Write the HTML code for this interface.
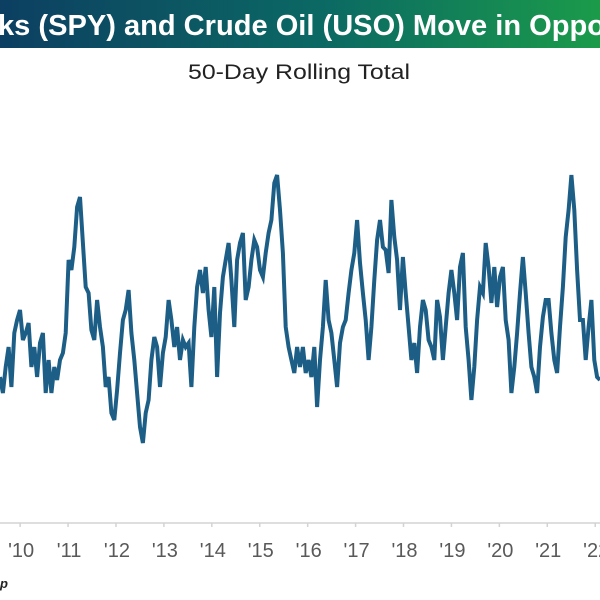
<!DOCTYPE html>
<html><head><meta charset="utf-8"><style>
html,body{margin:0;padding:0;background:#fff;width:600px;height:600px;overflow:hidden}
svg{display:block;font-family:"Liberation Sans",sans-serif}
</style></head><body>
<svg id="chart" width="600" height="600" viewBox="0 0 600 600">
<defs><linearGradient id="tg" x1="0" x2="1" y1="0" y2="0"><stop offset="0" stop-color="#0c3f62"/><stop offset="0.55" stop-color="#0b6a63"/><stop offset="1" stop-color="#1b9b4a"/></linearGradient>
<clipPath id="cp"><rect x="0" y="0" width="600" height="600"/></clipPath></defs>
<rect x="0" y="0" width="600" height="48" fill="url(#tg)"/>
<text x="-2" y="35" font-size="29" font-weight="bold" fill="#fff" textLength="607" lengthAdjust="spacingAndGlyphs">ks (SPY) and Crude Oil (USO) Move in Oppo</text>
<text x="188" y="79" font-size="21" fill="#222" textLength="222" lengthAdjust="spacingAndGlyphs">50-Day Rolling Total</text>
<line x1="0" y1="523" x2="600" y2="523" stroke="#d3d3d3" stroke-width="1.5"/>
<g id="ticks"></g>
<g id="plot" clip-path="url(#cp)"></g>
<text x="0" y="588" font-size="13" font-style="italic" font-weight="bold" fill="#222">p</text>
</svg>
<script>
const tickLabels = ["'10","'11","'12","'13","'14","'15","'16","'17","'18","'19","'20","'21","'22"];
const tickYears = [2010,2011,2012,2013,2014,2015,2016,2017,2018,2019,2020,2021,2022];
const startYear = 2009.58;
const endYear = 2022.1;
const values = [123,107,133,153,113,167,180,190,160,167,177,133,153,123,157,167,107,140,107,133,120,140,147,167,240,230,253,293,303,257,213,207,170,160,200,173,153,113,123,87,80,110,147,180,190,210,167,140,107,73,57,87,100,140,163,153,113,147,163,200,180,153,173,140,160,153,157,113,173,213,230,207,233,190,163,213,123,187,223,240,257,220,173,240,257,267,200,213,240,260,253,230,223,247,267,280,317,325,290,247,173,153,140,127,
153,133,153,127,140,123,153,93,140,173,220,180,167,140,113,157,173,180,207,230,247,280,237,207,180,140,173,220,260,280,253,250,227,300,263,240,190,243,207,173,140,157,127,173,200,190,160,153,140,200,183,140,173,207,230,207,180,233,247,173,140,100,
133,180,213,207,257,233,197,233,193,223,233,180,160,107,133,167,207,243,207,167,133,123,107,153,183,200,200,167,140,127,173,213,263,290,325,290,230,180,180,140,173,200,140,123,120];

const NS = "http://www.w3.org/2000/svg";
function xScale(yr){ return (yr - startYear) / (endYear - startYear) * 600; }
function yScale(v){ return 500 - v; }

const ticks = document.getElementById('ticks');
tickYears.forEach((yr,i)=>{
  const x = xScale(yr);
  const t = document.createElementNS(NS,'line');
  t.setAttribute('x1',x); t.setAttribute('x2',x); t.setAttribute('y1',523); t.setAttribute('y2',527);
  t.setAttribute('stroke','#d3d3d3'); t.setAttribute('stroke-width','1.5');
  
  
  ticks.appendChild(t);
  const lb = document.createElementNS(NS,'text');
  lb.setAttribute('x', x + 1); lb.setAttribute('y', 557);
  lb.setAttribute('text-anchor','middle'); lb.setAttribute('font-size','20'); lb.setAttribute('fill','#595959');
  lb.textContent = tickLabels[i];
  
  
  ticks.appendChild(lb);
});

const n = values.length;
const plotStart = 2009.58, plotEnd = 2022.1;
const pts = values.map((v,i)=>{
  const yr = plotStart + i * (plotEnd - plotStart) / (n - 1);
  return xScale(yr).toFixed(1) + ',' + yScale(v).toFixed(1);
}).join(' ');
const line = document.createElementNS(NS,'polyline');
line.setAttribute('points', pts);
line.setAttribute('fill','none');
line.setAttribute('stroke','#1d5e86');
line.setAttribute('stroke-width','4');
line.setAttribute('stroke-linejoin','miter');


document.getElementById('plot').appendChild(line);
</script>
</body></html>
